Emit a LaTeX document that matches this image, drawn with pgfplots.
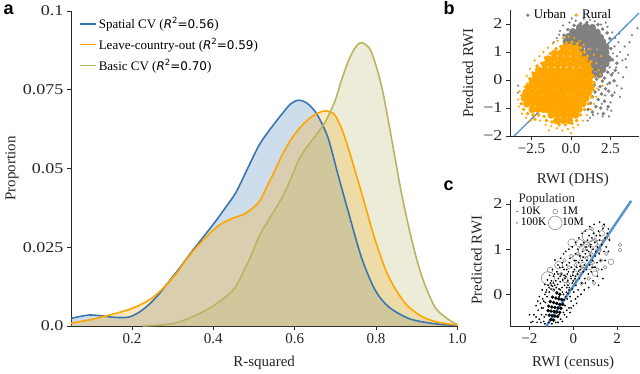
\documentclass[border=0pt]{standalone}
\usepackage{fontspec}
\setmainfont{Liberation Serif}
\newfontfamily\ystretch{Liberation Serif}[FakeStretch=1.2]
\newfontfamily\dvsans{DejaVu Sans}
\newfontfamily\lsans{Liberation Sans}
\usepackage{pgfplots}
\usepackage{pgfplotstable}
\pgfplotsset{compat=1.18}

\definecolor{cblue}{RGB}{58,118,175}
\definecolor{corange}{RGB}{255,165,0}
\definecolor{colive}{RGB}{185,180,100}
\definecolor{cgray}{RGB}{128,128,128}
\definecolor{cline}{RGB}{84,145,205}
\definecolor{ctext}{RGB}{38,38,38}

\newcommand{\tickfont}{\fontsize{15}{15}\selectfont}
\newcommand{\ytickfont}{\ystretch\fontsize{15}{15}\selectfont}
\newcommand{\legfont}{\rmfamily\fontsize{13}{15}\selectfont}
\DeclareRobustCommand{\Rsq}[1]{\mbox{\dvsans\fontsize{12}{14}\selectfont\itshape R\upshape\raisebox{0.42em}{\fontsize{8.5}{9}\selectfont 2}=#1}}

\pgfplotsset{
  panel/.style={
    scale only axis, anchor=south west, clip=false,
    axis x line*=bottom, axis y line*=left,
    axis line style={ctext, line width=0.9pt},
    tick align=outside, major tick length=4pt,
    tick style={ctext, line width=0.9pt},
    xticklabel style={font=\tickfont, text=ctext},
    yticklabel style={font=\ytickfont, text=ctext},
    label style={font=\tickfont, text=ctext},
    minor tick num=0,
  },
}

% kernel density curves, panel a
\pgfplotstableread{
x y
0.05 0.0024
0.075 0.0031
0.096 0.0035
0.12 0.0033
0.145 0.0029
0.17 0.0027
0.194 0.0029
0.219 0.0045
0.245 0.0072
0.268 0.0104
0.284 0.0130
0.31 0.0172
0.35 0.0241
0.38 0.0290
0.407 0.0335
0.43 0.0376
0.456 0.0425
0.488 0.0510
0.513 0.0575
0.537 0.0620
0.570 0.0675
0.59 0.0705
0.610 0.0717
0.63 0.0708
0.651 0.0680
0.668 0.0640
0.684 0.0590
0.708 0.0474
0.733 0.0358
0.765 0.0215
0.798 0.0114
0.831 0.0061
0.88 0.0024
0.929 0.0010
0.97 0.0004
1.0 0.0002
}\spatial

\pgfplotstableread{
x y
0.05 0.0009
0.101 0.0021
0.145 0.0035
0.194 0.0053
0.235 0.0077
0.26 0.0100
0.284 0.0130
0.31 0.0168
0.333 0.0210
0.36 0.0252
0.398 0.0302
0.42 0.0325
0.447 0.0342
0.47 0.0352
0.488 0.0365
0.513 0.0395
0.529 0.0435
0.55 0.0490
0.570 0.0545
0.59 0.0590
0.610 0.0625
0.63 0.0652
0.651 0.0672
0.674 0.0683
0.69 0.0678
0.700 0.0668
0.716 0.0625
0.733 0.0560
0.765 0.0421
0.798 0.0273
0.831 0.0157
0.872 0.0072
0.913 0.0030
0.953 0.0012
1.0 0.0003
}\country

\pgfplotstableread{
x y
0.227 0.0000
0.268 0.0003
0.309 0.0010
0.35 0.0030
0.39 0.0056
0.431 0.0093
0.455 0.0125
0.472 0.0167
0.49 0.0215
0.513 0.0285
0.54 0.0345
0.570 0.0410
0.59 0.0465
0.610 0.0527
0.63 0.0568
0.651 0.0603
0.676 0.0650
0.700 0.0717
0.715 0.0780
0.733 0.0844
0.748 0.0882
0.761 0.0899
0.775 0.0893
0.790 0.0866
0.814 0.0760
0.839 0.0590
0.863 0.0420
0.888 0.0273
0.913 0.0157
0.945 0.0060
0.978 0.0021
1.0 0.0005
}\basic

\begin{document}
\begin{tikzpicture}
\useasboundingbox (0,0) rectangle (640pt,373pt);

% ---------------- panel a
\begin{axis}[panel,
  at={(71pt,47pt)}, width=386.3pt, height=315pt,
  xmin=0.05, xmax=1.0, ymin=0, ymax=0.1,
  xtick={0.2,0.4,0.6,0.8,1.0}, xticklabels={0.2,0.4,0.6,0.8,1.0},
  ytick={0,0.025,0.05,0.075,0.1}, yticklabels={0.0,0.025,0.05,0.075,0.1},
  xlabel={R-squared}, ylabel={Proportion},
  xlabel style={at={(axis description cs:0.5,-0.1175)}, anchor=center},
  ylabel style={at={(axis description cs:-0.153,0.5)}, anchor=center},
  legend style={at={(axis description cs:0.022,0.985)}, anchor=north west,
    draw=none, fill=none, font=\legfont, row sep=5pt, inner sep=0pt,
    nodes={inner sep=1.5pt}},
  legend cell align=left,
  legend image code/.code={\draw[#1,fill=none] (0pt,0pt) -- (16pt,0pt);},
]
\addplot[draw=none, fill=cblue, fill opacity=0.25, smooth, forget plot] table[x=x,y=y] {\spatial} \closedcycle;
\addplot[draw=none, fill=corange, fill opacity=0.25, smooth, forget plot] table[x=x,y=y] {\country} \closedcycle;
\addplot[draw=none, fill=colive, fill opacity=0.25, smooth, forget plot] table[x=x,y=y] {\basic} \closedcycle;
\addplot[cblue, line width=1.6pt, smooth] table[x=x,y=y] {\spatial};
\addlegendentry{Spatial CV (\Rsq{0.56})}
\addplot[corange, line width=1.6pt, smooth] table[x=x,y=y] {\country};
\addlegendentry{Leave-country-out (\Rsq{0.59})}
\addplot[colive, line width=1.6pt, smooth] table[x=x,y=y] {\basic};
\addlegendentry{Basic CV (\Rsq{0.70})}
\end{axis}

% ---------------- panel b
\begin{axis}[panel,
  at={(510pt,237pt)}, width=129pt, height=126pt,
  xmin=-3.86, xmax=4.3, ymin=-2, ymax=2.5,
  xtick={-2.5,0,2.5}, xticklabels={−2.5,0.0,2.5},
  ytick={-2,-1,0,1,2}, yticklabels={−2,−1,0,1,2},
  xlabel={RWI (DHS)}, ylabel={Predicted RWI},
  xlabel style={at={(axis description cs:0.488,-0.349)}, anchor=center},
  ylabel style={at={(axis description cs:-0.326,0.5)}, anchor=center},
  legend style={at={(axis description cs:0.105,1.01)}, anchor=north west,
    legend columns=2, draw=none, fill=none, font=\legfont, inner sep=0pt,
    nodes={inner sep=1pt},
    /tikz/every even column/.append style={column sep=5pt}},
  legend cell align=left,
]
\addlegendimage{legend image code/.code={\path[draw=none,fill=none] (0pt,-1pt) rectangle (9pt,1pt); \fill[cgray,draw=none] (4pt,0pt) circle (1.8pt);}}
\addlegendentry{Urban}
\addlegendimage{legend image code/.code={\path[draw=none,fill=none] (0pt,-1pt) rectangle (9pt,1pt); \fill[corange,draw=none] (4pt,0pt) circle (1.8pt);}}
\addlegendentry{Rural}
% urban, sparse outliers
\addplot[only marks, mark=*, mark size=0.9pt, cgray, forget plot] coordinates {
(-0.7,1.75) (-0.5,1.95) (-0.1,2.05) (0.3,2.12) (0.8,2.18) (1.2,2.15) (1.5,2.1) (1.9,1.98)
(2.3,1.9) (2.6,1.7) (2.8,1.5) (2.75,1.2) (3.0,1.35) (3.1,1.0) (2.9,0.85) (3.25,0.7)
(2.85,0.45) (3.0,0.25) (3.4,1.2) (3.6,0.9) (3.85,1.6) (4.2,1.85) (3.3,0.1) (2.9,-0.2)
(2.75,-0.45) (3.1,-0.6) (2.5,-0.8) (2.3,-1.05) (2.0,-1.3) (1.7,-1.2) (1.4,-1.25) (2.4,-1.3)
(1.2,-1.35) (3.5,0.45) (2.2,2.05) (-0.9,1.5) (-1.1,1.35) (-3.35,-0.2) (-3.35,-0.45) (0.05,2.2)
(3.7,1.35) (3.05,1.65) (2.65,0.95) (3.2,-0.3) (2.55,-1.1) (1.05,-1.45) (-0.75,1.62) (3.45,0.75)
(2.15,-0.55) (1.75,-0.35) (2.45,0.45) (2.65,0.25) (1.95,-0.85) (2.3,-0.15)
};
% urban, medium density
\addplot[only marks, mark=*, mark size=1.6pt, cgray, forget plot] coordinates {
(2.32,0.28) (2.12,0.07) (1.62,0.03) (1.98,-0.04) (2.44,-0.1) (1.47,-0.18) (1.83,-0.23) (2.18,-0.31)
(1.52,-0.43) (1.93,-0.5) (2.38,-0.4) (1.36,-0.6) (1.72,-0.7) (2.12,-0.76) (1.23,-0.83) (1.57,-0.95)
(1.88,-1.0) (1.08,-1.05) (2.55,0.18) (2.62,0.72) (2.52,1.12) (2.45,1.48) (2.28,1.68) (2.0,1.82)
(1.7,1.98) (1.0,2.05) (0.6,2.02) (0.2,1.95) (-0.2,1.8) (-0.45,1.6) (2.72,-0.03) (2.6,-0.55)
(2.8,0.35) (2.05,-1.2) (1.35,-1.15) (2.35,-0.95) (2.9,0.6)
};
% urban, dense core
\addplot[only marks, mark=*, mark size=3.5pt, cgray, forget plot] coordinates {
(0.55,1.88) (0.95,1.9) (1.35,1.87)
(0.12,1.72) (0.5,1.74) (0.9,1.73) (1.3,1.72) (1.65,1.7)
(-0.15,1.55) (0.25,1.56) (0.65,1.56) (1.05,1.55) (1.45,1.55) (1.85,1.52)
(-0.3,1.38) (0.05,1.38) (0.45,1.4) (0.85,1.38) (1.25,1.38) (1.65,1.38) (2.0,1.36)
(0.25,1.2) (0.65,1.22) (1.05,1.2) (1.45,1.2) (1.85,1.2) (2.2,1.18)
(0.65,1.0) (1.05,1.02) (1.45,1.0) (1.85,1.0) (2.2,0.98)
(0.85,0.8) (1.25,0.82) (1.65,0.8) (2.05,0.8) (2.35,0.76)
(1.05,0.6) (1.45,0.6) (1.85,0.62) (2.2,0.58)
(1.25,0.4) (1.65,0.42) (2.0,0.38)
(1.4,0.2) (1.8,0.2)
};
% rural, sparse outliers
\addplot[only marks, mark=*, mark size=0.9pt, corange, forget plot] coordinates {
(-3.35,-0.7) (-3.3,-0.95) (-3.25,-0.4) (-3.1,-1.2) (-2.85,-1.35) (-2.55,-1.45) (-2.8,0.15) (-2.6,0.4)
(-2.3,0.7) (-2.0,0.85) (-1.75,1.0) (-1.45,1.15) (-1.15,1.3) (-0.85,1.4) (-0.5,1.5) (-0.15,1.55)
(0.2,1.5) (0.55,1.4) (0.8,1.25) (1.1,1.1) (1.45,0.9) (1.6,0.6) (1.75,0.35) (1.7,0.05)
(1.65,-0.3) (1.6,-0.6) (1.45,-0.85) (1.25,-1.05) (1.0,-1.25) (0.75,-1.45) (0.45,-1.6) (0.15,-1.7)
(-0.2,-1.75) (-0.55,-1.8) (-0.9,-1.72) (-1.25,-1.65) (-1.6,-1.6) (-1.95,-1.45) (0.0,-1.9) (-1.4,-1.8)
(1.9,0.85) (1.85,0.2) (2.0,-0.2)
};
% rural, cloud edge
\addplot[only marks, mark=*, mark size=1.6pt, corange, forget plot] coordinates {
(-2.9,-0.25) (-3.1,-0.55) (-3.15,-0.85) (-3.0,-1.05) (-2.75,-1.2) (-2.4,-1.25) (-2.05,-1.25) (-1.7,-1.3)
(-1.55,-1.45) (-1.2,-1.5) (-0.75,-1.6) (-0.35,-1.6) (0.05,-1.55) (0.35,-1.45) (0.6,-1.25) (0.85,-1.05)
(1.1,-0.85) (1.3,-0.6) (1.4,-0.35) (1.45,-0.1) (1.4,0.15) (1.3,0.4) (1.25,0.65) (1.05,0.85)
(0.85,1.0) (0.6,1.15) (0.4,1.3) (0.05,1.35) (-0.3,1.32) (-0.65,1.2) (-0.95,1.12) (-1.3,0.95)
(-1.6,0.8) (-1.85,0.6) (-2.15,0.5) (-2.4,0.25) (-2.6,0.05) (-2.75,-0.15) (-2.3,-1.4)
};
% rural, dense core
\addplot[only marks, mark=*, mark size=3.5pt, corange, forget plot] coordinates {
(-0.45,1.15) (-0.05,1.17) (0.3,1.13)
(-1.05,0.95) (-0.65,0.97) (-0.25,0.95) (0.15,0.96) (0.5,0.93)
(-1.45,0.75) (-1.05,0.77) (-0.65,0.75) (-0.25,0.76) (0.15,0.75) (0.55,0.74) (0.85,0.72)
(-1.65,0.55) (-1.25,0.56) (-0.85,0.55) (-0.45,0.57) (-0.05,0.55) (0.35,0.56) (0.75,0.54) (1.05,0.52)
(-2.05,0.35) (-1.65,0.36) (-1.25,0.35) (-0.85,0.34) (-0.45,0.35) (-0.05,0.36) (0.35,0.35) (0.75,0.34) (1.1,0.33)
(-2.25,0.15) (-1.85,0.16) (-1.45,0.15) (-1.05,0.14) (-0.65,0.15) (-0.25,0.16) (0.15,0.15) (0.55,0.14) (0.95,0.15) (1.2,0.13)
(-2.45,-0.05) (-2.05,-0.04) (-1.65,-0.05) (-1.25,-0.06) (-0.85,-0.05) (-0.45,-0.04) (-0.05,-0.05) (0.35,-0.06) (0.75,-0.05) (1.15,-0.04)
(-2.65,-0.25) (-2.25,-0.24) (-1.85,-0.25) (-1.45,-0.26) (-1.05,-0.25) (-0.65,-0.24) (-0.25,-0.25) (0.15,-0.26) (0.55,-0.25) (0.95,-0.24) (1.25,-0.25)
(-2.85,-0.45) (-2.45,-0.46) (-2.05,-0.45) (-1.65,-0.44) (-1.25,-0.45) (-0.85,-0.46) (-0.45,-0.45) (-0.05,-0.44) (0.35,-0.45) (0.75,-0.46) (1.1,-0.45)
(-2.95,-0.65) (-2.65,-0.64) (-2.25,-0.65) (-1.85,-0.66) (-1.45,-0.65) (-1.05,-0.64) (-0.65,-0.65) (-0.25,-0.66) (0.15,-0.65) (0.55,-0.64) (0.95,-0.65)
(-2.8,-0.85) (-2.45,-0.84) (-2.05,-0.85) (-1.65,-0.86) (-1.25,-0.85) (-0.85,-0.84) (-0.45,-0.85) (-0.05,-0.86) (0.35,-0.85) (0.75,-0.84)
(-2.45,-1.05) (-2.1,-1.04) (-1.75,-1.05) (-1.45,-1.06) (-1.05,-1.05) (-0.65,-1.04) (-0.25,-1.05) (0.15,-1.06) (0.5,-1.05)
(-1.25,-1.25) (-0.85,-1.24) (-0.45,-1.25) (-0.05,-1.26) (0.3,-1.25)
(-0.9,-1.45) (-0.5,-1.44) (-0.1,-1.45)
};
\addplot[cline, line width=1.3pt, forget plot] coordinates {(-3.6,-2.0) (4.3,2.39)};
\end{axis}

% ---------------- panel c
\begin{axis}[panel,
  at={(510pt,47pt)}, width=129.5pt, height=125.6pt,
  xmin=-2.89, xmax=3.02, ymin=-0.7, ymax=2.08,
  xtick={-2,0,2}, xticklabels={−2,0,2},
  ytick={0,1,2}, yticklabels={0,1,2},
  xlabel={RWI (census)}, ylabel={Predicted RWI},
  xlabel style={at={(axis description cs:0.488,-0.295)}, anchor=center},
  ylabel style={at={(axis description cs:-0.258,0.525)}, anchor=center},
  legend style={at={(axis description cs:0.03,0.955)}, anchor=north west,
    legend columns=2, draw=none, fill=none, font=\fontsize{11.5}{13}\selectfont,
    inner sep=0pt, nodes={inner sep=0.8pt}, row sep=0.5pt,
    /tikz/every even column/.append style={column sep=1pt}},
  legend cell align=left,
]
\addlegendimage{legend image code/.code={\path[draw=none,fill=none] (0pt,-1pt) rectangle (6pt,1pt); \fill[black,draw=none] (3pt,0pt) circle (0.7pt);}}
\addlegendentry{10K}
\addlegendimage{legend image code/.code={\path[draw=none,fill=none] (0pt,-1pt) rectangle (13pt,1pt); \draw[cgray, fill=none, line width=0.5pt] (7pt,0pt) circle (2.4pt);}}
\addlegendentry{1M}
\addlegendimage{legend image code/.code={\path[draw=none,fill=none] (0pt,-1pt) rectangle (6pt,1pt); \fill[black!45,draw=none] (3pt,0pt) circle (1pt);}}
\addlegendentry{100K}
\addlegendimage{legend image code/.code={\path[draw=none,fill=none] (0pt,-1pt) rectangle (13pt,1pt); \draw[cgray, fill=none, line width=0.5pt, overlay] (7pt,0pt) circle (6.8pt);}}
\addlegendentry{10M}
\node[anchor=west, font=\legfont, text=ctext] at (axis description cs:0.04,1.01) {Population};
% large populations, open circles
\addplot[only marks, mark=o, mark size=6.5pt, mark options={cgray, line width=0.5pt}, forget plot] coordinates {
(-1.16,0.36) (0.53,0.97) (0.7,1.3)
};
\addplot[only marks, mark=o, mark size=4pt, mark options={cgray, line width=0.5pt}, forget plot] coordinates {
(0.15,0.8) (0.3,1.13) (0.92,1.13) (-0.07,1.14) (-0.67,0.65)
};
\addplot[only marks, mark=o, mark size=2.8pt, mark options={cgray, line width=0.5pt}, forget plot] coordinates {
(-1.06,0.54) (0.99,0.46) (1.3,1.35) (0.08,0.46) (1.14,0.98) (0.76,0.61) (1.72,0.72) (-0.38,0.32)
(0.45,0.65) (1.2,1.15) (0.6,1.1)
};
\addplot[only marks, mark=o, mark size=1.8pt, mark options={cgray, line width=0.5pt}, forget plot] coordinates {
(1.37,1.51) (2.13,1.1) (2.13,0.98) (0.38,0.24) (-0.24,0.24) (-0.91,0.1) (0.2,0.9) (0.4,0.6)
(0.6,0.8) (0.8,0.9) (1.0,1.2) (1.2,1.0) (1.4,1.2) (0.9,0.7) (0.5,1.0) (0.1,0.65)
(-0.2,0.6) (-0.4,0.75) (1.1,0.55) (0.7,0.35) (0.3,0.45) (1.5,0.9) (1.6,1.25) (0.95,0.25)
(-0.55,0.45) (1.25,0.75) (0.05,0.3) (0.85,1.45) (1.45,0.6) (-0.1,0.85)
};
% small populations, dots
\addplot[only marks, mark=*, mark size=0.65pt, black, forget plot] coordinates {
(-1.93,-0.62) (-1.85,-0.6) (-1.7,-0.5) (-1.6,-0.35) (-1.55,-0.55) (-1.5,-0.2) (-1.45,-0.45) (-1.4,-0.1)
(-1.38,-0.3) (-1.35,-0.6) (-1.3,0.0) (-1.28,-0.18) (-1.25,-0.45) (-1.22,0.1) (-1.2,-0.05) (-1.15,0.2)
(-1.12,-0.62) (-1.1,0.05) (-1.05,0.25) (-1.02,0.12) (-1.0,0.3) (-0.98,-0.65) (-0.95,0.18) (-0.9,0.4)
(-0.88,0.1) (-0.84,0.76) (-0.8,0.3) (-0.78,0.15) (-0.75,0.5) (-0.72,0.22) (-0.7,-0.62) (-0.68,0.35)
(-0.65,0.12) (-0.62,0.6) (-0.6,0.28) (-0.58,-0.55) (-0.55,0.45) (-0.52,0.15) (-0.5,0.7) (-0.48,0.32)
(-0.45,-0.4) (-0.42,0.55) (-0.4,0.2) (-0.38,-0.25) (-0.35,0.4) (-0.32,0.05) (-0.3,0.65) (-0.28,-0.1)
(-0.25,0.3) (-0.22,0.5) (-0.2,-0.3) (-0.18,0.15) (-0.15,0.8) (-0.12,0.4) (-0.1,-0.15) (-0.08,0.6)
(-0.05,0.25) (0.0,0.5) (0.02,0.05) (0.05,0.75) (0.08,0.35) (0.1,0.9) (0.12,0.2) (0.15,0.6)
(0.18,0.45) (0.2,1.0) (0.22,0.1) (0.25,0.7) (0.28,0.35) (0.3,0.85) (0.32,0.55) (0.35,1.1)
(0.38,0.25) (0.4,0.75) (0.42,0.95) (0.45,0.5) (0.48,1.15) (0.5,0.65) (0.52,0.35) (0.55,0.9)
(0.58,1.05) (0.6,0.55) (0.62,0.75) (0.65,1.2) (0.68,0.45) (0.7,0.95) (0.72,1.3) (0.75,0.65)
(0.78,0.85) (0.8,1.1) (0.82,0.5) (0.85,1.25) (0.88,0.75) (0.9,1.0) (0.92,1.35) (0.95,0.6)
(0.98,1.15) (1.0,0.85) (1.05,1.3) (1.08,0.7) (1.1,1.05) (1.15,1.4) (1.18,0.9) (1.2,1.2)
(1.25,0.75) (1.3,1.1) (1.35,1.45) (1.4,0.95) (1.45,1.25) (1.5,1.05) (1.55,1.35) (1.3,0.55)
(1.1,0.4) (-1.7,-0.25) (-2.0,-0.45) (-0.65,-0.05) (-0.55,-0.1) (-0.45,0.0) (-0.35,-0.05) (-0.5,0.05)
(-0.3,0.15) (-0.42,-0.12) (-0.25,0.02) (-0.15,-0.05) (-0.6,0.1) (-0.2,0.1) (-0.05,0.12) (0.0,0.3)
(-0.1,0.35) (0.1,0.4) (-0.38,0.35) (-0.28,0.45) (0.05,0.55) (-0.75,0.05) (-0.85,0.2) (-1.0,0.2)
(-0.4,-0.45) (-0.3,-0.35) (-0.1,-0.3) (0.1,-0.1) (0.2,-0.05)
(-1.8,-0.45) (-1.65,-0.62) (-1.62,-0.15) (-1.48,-0.62) (-1.42,0.1) (-1.33,-0.5) (-1.3,0.22) (-1.18,0.32)
(-1.08,0.42) (-0.95,0.55) (-0.86,0.45) (-0.7,0.65) (-0.58,0.8) (-0.45,0.9) (-0.35,0.95) (-0.2,1.0)
(-0.05,1.05) (0.1,1.15) (0.25,1.25) (0.4,1.35) (0.55,1.4) (0.75,1.5) (0.95,1.55) (1.2,1.6)
(1.4,1.55) (1.6,1.45) (1.65,1.2) (1.6,0.95) (1.45,0.75) (1.35,0.35) (1.15,0.2) (0.9,0.3)
(0.7,0.15) (0.5,0.1) (0.35,0.0) (0.15,-0.2) (0.0,-0.25) (-0.15,-0.4) (-0.3,-0.5) (-0.5,-0.6)
(-0.55,-0.3) (-0.65,-0.45) (-1.45,-0.3) (-1.55,-0.05) (-0.25,0.2) (0.3,0.62) (0.45,0.82) (0.62,0.98)
(0.78,1.05) (0.85,0.6) (1.02,0.95) (1.22,1.3) (1.0,0.6) (0.55,0.25) (-0.7,0.45) (-0.9,0.25)
(-1.1,0.15) (-1.25,0.05) (-1.35,-0.15) (-0.8,-0.62) (-1.3,-0.65) (-0.18,0.7) (0.12,0.75) (0.25,0.52)
(-0.02,0.42) (-0.42,0.42) (-0.6,0.4) (-0.48,0.6) (-0.3,0.55)
};
\addplot[only marks, mark=*, mark size=1.5pt, black, forget plot] coordinates {
(-0.75,0.03) (-0.62,0.0)
(-0.95,-0.06) (-0.8,-0.08) (-0.66,-0.1) (-0.52,-0.12)
(-1.05,-0.16) (-0.9,-0.18) (-0.76,-0.2) (-0.62,-0.22) (-0.48,-0.22)
(-1.12,-0.26) (-0.98,-0.28) (-0.84,-0.29) (-0.7,-0.3) (-0.56,-0.31)
(-1.15,-0.36) (-1.02,-0.37) (-0.88,-0.38) (-0.75,-0.39) (-0.62,-0.4)
(-1.1,-0.46) (-0.97,-0.47) (-0.84,-0.48) (-0.72,-0.49)
(-1.03,-0.56) (-0.9,-0.57)
};
\addplot[cline, line width=2.4pt, forget plot] coordinates {(-1.23,-0.7) (2.64,2.07)};
\end{axis}

\node[anchor=base west, font=\lsans\bfseries\fontsize{18}{18}\selectfont, text=black] at (0pt,358pt) {a};
\node[anchor=base west, font=\lsans\bfseries\fontsize{18}{18}\selectfont, text=black] at (440pt,358pt) {b};
\node[anchor=base west, font=\lsans\bfseries\fontsize{18}{18}\selectfont, text=black] at (440pt,183pt) {c};
\end{tikzpicture}
\end{document}
